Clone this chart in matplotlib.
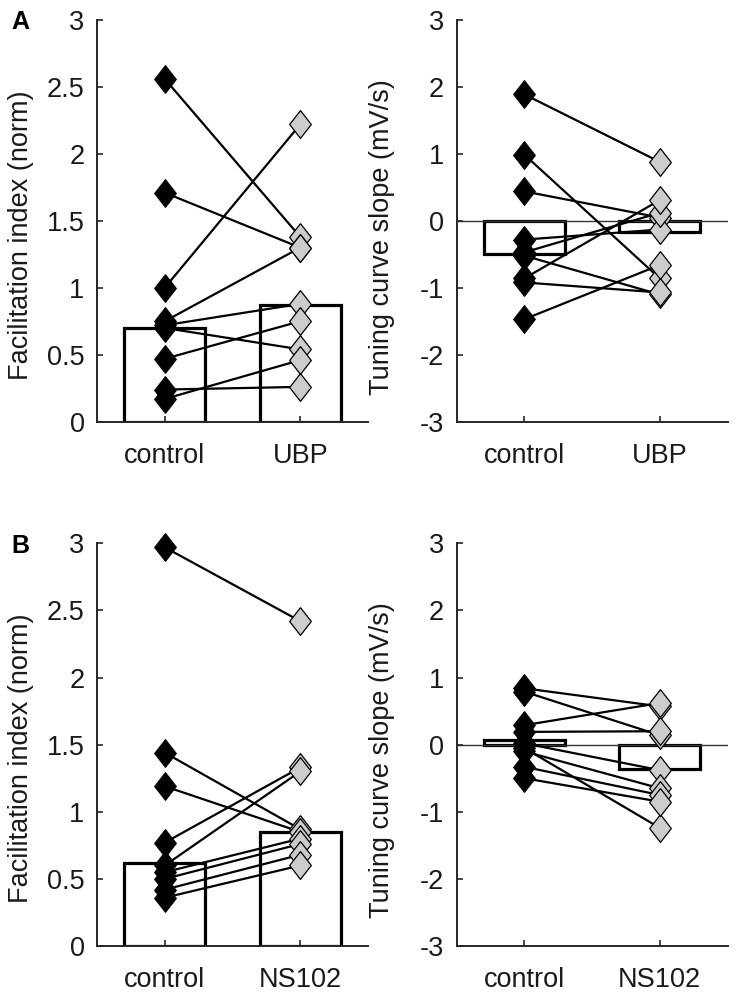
import matplotlib
matplotlib.use("Agg")
import matplotlib.pyplot as plt
import numpy as np

plt.rcParams['font.family'] = ['Liberation Sans', 'DejaVu Sans']

# ---- data ----
conditions_A = ["control", "UBP"]
conditions_B = ["control", "NS102"]

A_fac_control = [2.56, 1.71, 1.00, 0.75, 0.72, 0.70, 0.47, 0.24, 0.17]
A_fac_drug = [1.38, 1.30, 2.22, 1.30, 0.88, 0.54, 0.75, 0.26, 0.46]
A_fac_bars = [0.70, 0.87]

A_slope_control = [1.89, 0.99, 0.44, -0.28, -0.47, -0.52, -0.86, -0.92, -1.47]
A_slope_drug = [0.88, -0.86, 0.05, -0.13, 0.12, -1.10, 0.31, -1.07, -0.66]
A_slope_bars = [-0.50, -0.16]

B_fac_control = [2.97, 1.44, 1.19, 0.77, 0.60, 0.55, 0.50, 0.42, 0.36]
B_fac_drug = [2.42, 0.87, 0.85, 1.33, 1.30, 0.80, 0.76, 0.68, 0.60]
B_fac_bars = [0.62, 0.85]

B_slope_control = [0.84, 0.79, 0.29, 0.19, 0.02, -0.05, -0.10, -0.33, -0.50]
B_slope_drug = [0.57, 0.14, 0.62, 0.20, -0.38, -1.24, -0.65, -0.75, -0.85]
B_slope_bars = [0.07, -0.37]

fac_ticks = [0, 0.5, 1, 1.5, 2, 2.5, 3]
fac_ticklabels = ["0", "0.5", "1", "1.5", "2", "2.5", "3"]
slope_ticks = [-3, -2, -1, 0, 1, 2, 3]
slope_ticklabels = ["-3", "-2", "-1", "0", "1", "2", "3"]

# ---- style ----
W, H = 737, 1000
FS = 19.5
diamond = [(0, 1), (0.78, 0), (0, -1), (-0.78, 0), (0, 1)]
axcol = '#262626'
txtcol = '#1a1a1a'

fig = plt.figure(figsize=(W / 100, H / 100), dpi=100)


def make_ax(x0, y_top, y_bot, w=271):
    return fig.add_axes([x0 / W, 1 - y_bot / H, w / W, (y_bot - y_top) / H])


def panel(ax, ctrl, drug, bars, labels, ylim, ticks, ticklabels, zero_line):
    x = np.array([1, 2])
    ax.bar(x, bars, width=0.6, color='white', edgecolor='black',
           linewidth=2.3, zorder=1)
    if zero_line:
        ax.axhline(0, color='#333333', lw=1.0, zorder=1.5)
    for c, d in zip(ctrl, drug):
        ax.plot(x, [c, d], color='black', lw=1.6, zorder=2, clip_on=False)
    ax.plot(np.ones(len(ctrl)), ctrl, linestyle='none', marker=diamond,
            markersize=20, markerfacecolor='black', markeredgecolor='black',
            markeredgewidth=0.8, zorder=3, clip_on=False)
    ax.plot(np.full(len(drug), 2), drug, linestyle='none', marker=diamond,
            markersize=20, markerfacecolor='#cccccc', markeredgecolor='black',
            markeredgewidth=0.9, zorder=3, clip_on=False)
    ax.set_xlim(0.5, 2.5)
    ax.set_ylim(*ylim)
    ax.set_yticks(ticks)
    ax.set_yticklabels(ticklabels)
    ax.set_xticks(x)
    ax.set_xticklabels(labels)
    for s in ['top', 'right']:
        ax.spines[s].set_visible(False)
    for s in ['left', 'bottom']:
        ax.spines[s].set_linewidth(1.4)
        ax.spines[s].set_color(axcol)
    ax.tick_params(axis='both', direction='in', length=4, width=1.2,
                   colors=axcol, labelsize=FS, labelcolor=txtcol)
    ax.tick_params(axis='y', pad=9)
    ax.tick_params(axis='x', pad=15)


axA1 = make_ax(97, 20, 421.7)
axA2 = make_ax(456.5, 20, 421.7)
axB1 = make_ax(97, 543.3, 946)
axB2 = make_ax(456.5, 543.3, 946)

panel(axA1, A_fac_control, A_fac_drug, A_fac_bars, conditions_A, (0, 3),
      fac_ticks, fac_ticklabels, False)
panel(axA2, A_slope_control, A_slope_drug, A_slope_bars, conditions_A, (-3, 3),
      slope_ticks, slope_ticklabels, True)
panel(axB1, B_fac_control, B_fac_drug, B_fac_bars, conditions_B, (0, 3),
      fac_ticks, fac_ticklabels, False)
panel(axB2, B_slope_control, B_slope_drug, B_slope_bars, conditions_B, (-3, 3),
      slope_ticks, slope_ticklabels, True)

# y labels
fig.text(21 / W, 1 - 235 / H, "Facilitation index (norm)", rotation=90,
         ha='center', va='center', fontsize=FS, color=txtcol)
fig.text(382 / W, 1 - 237 / H, "Tuning curve slope (mV/s)", rotation=90,
         ha='center', va='center', fontsize=FS, color=txtcol)
fig.text(21 / W, 1 - 758 / H, "Facilitation index (norm)", rotation=90,
         ha='center', va='center', fontsize=FS, color=txtcol)
fig.text(382 / W, 1 - 760 / H, "Tuning curve slope (mV/s)", rotation=90,
         ha='center', va='center', fontsize=FS, color=txtcol)

# panel letters
fig.text(11 / W, 1 - 10 / H, "A", fontsize=18, fontweight='bold',
         ha='left', va='top')
fig.text(11 / W, 1 - 534 / H, "B", fontsize=18, fontweight='bold',
         ha='left', va='top')

fig.savefig("out.png", dpi=100)
